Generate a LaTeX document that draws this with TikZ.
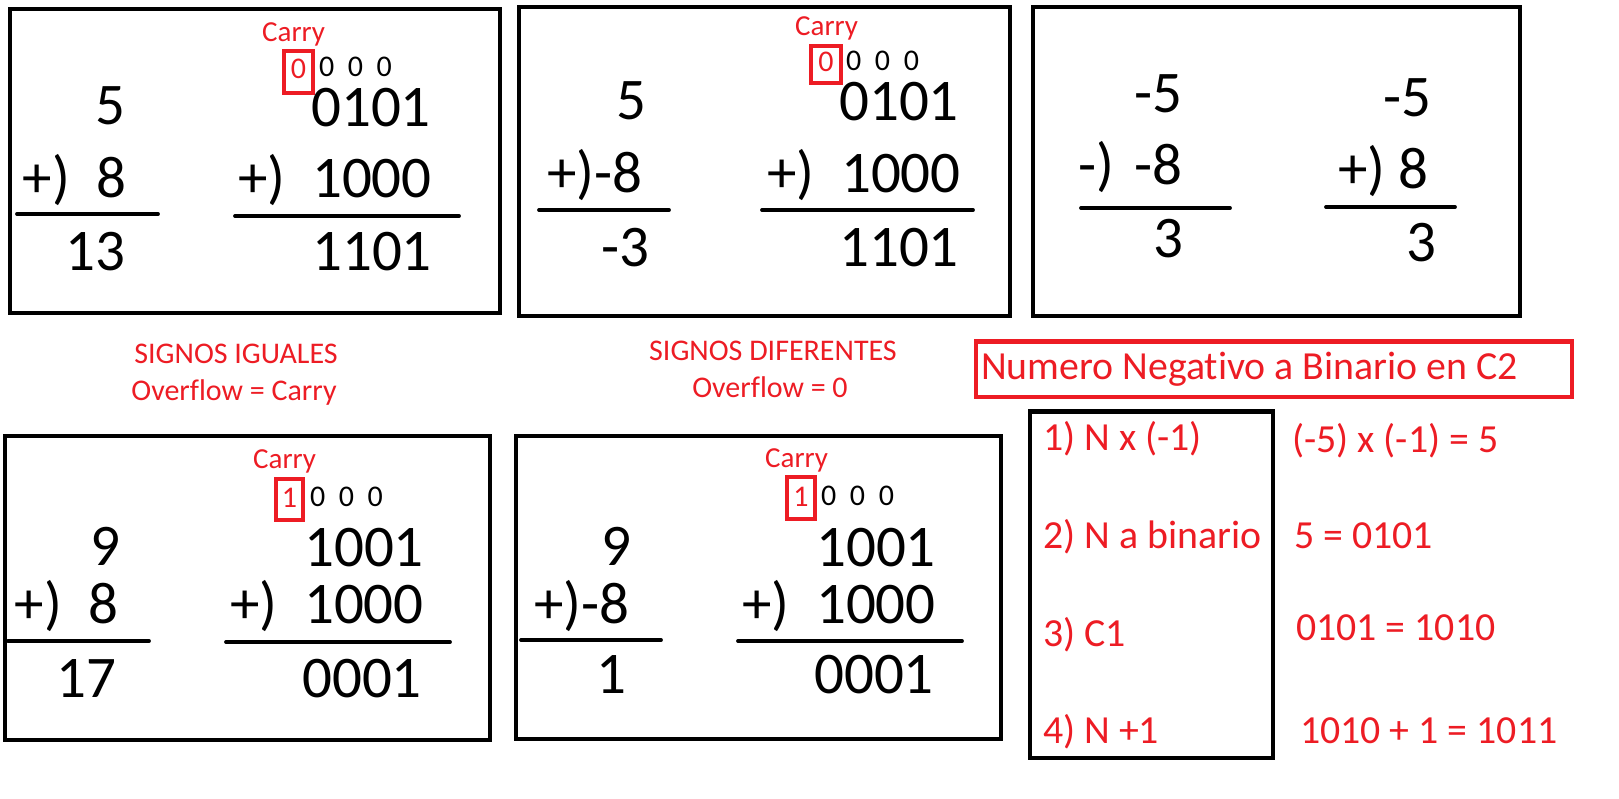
\documentclass[tikz,border=0pt]{standalone}
\usepackage{fontspec}
\setmainfont{Carlito}[Ligatures=NoCommon]
\definecolor{pred}{HTML}{ED1C24}
\tikzset{
  frame/.style={draw=black, line width=4.8pt},
  redframe/.style={draw=pred, line width=4.6pt},
  rule/.style={draw=black, line width=3.8pt, line cap=round},
  big/.style={inner sep=0pt, anchor=base east, font=\fontsize{59}{60}\selectfont},
  carrylbl/.style={inner sep=0pt, anchor=base west, text=pred, font=\fontsize{29}{30}\selectfont},
  cdig/.style={inner sep=0pt, anchor=base west, font=\fontsize{30}{32}\selectfont},
  rdig/.style={inner sep=0pt, anchor=base, text=pred, font=\fontsize{30}{32}\selectfont},
  note/.style={inner sep=0pt, anchor=base, text=pred, font=\fontsize{30}{32}\selectfont},
  stepnote/.style={inner sep=0pt, anchor=base west, text=pred, font=\fontsize{39.8}{42}\selectfont},
}
\begin{document}
\begin{tikzpicture}[x=1pt,y=-1pt]
\useasboundingbox (0,0) rectangle (1619,799);
\fill[white] (0,0) rectangle (1619,799);

% ---------- Box 1 ----------
\draw[frame] (10,9) rectangle (500,313);
\node[carrylbl] (c1) at (262,42) {Carry};
\node[rdig] (c1d) at (298.5,79) {0};
\draw[redframe] (284,51) rectangle (313,93);
\node[cdig] (c1z) at (319,77) {0~~0~~0};
\node[big] (a1) at (126,125) {5};
\node[big] (a2) at (127,198) {+)~~8};
\coordinate (l1a) at (17,214); \coordinate (l1b) at (158,214);
\draw[rule] (l1a) -- (l1b);
\node[big] (a3) at (126,271) {13};
\node[big] (b1) at (431,127) {0101};
\node[big] (b2) at (432,198) {+)~~1000};
\coordinate (l2a) at (235,216); \coordinate (l2b) at (459,216);
\draw[rule] (l2a) -- (l2b);
\node[big] (b3) at (432,271) {1101};

% ---------- Box 2 ----------
\draw[frame] (519,7) rectangle (1010,316);
\node[carrylbl] (c2) at (795,36) {Carry};
\node[rdig] (c2d) at (826,72) {0};
\draw[redframe] (811,46) rectangle (841,83);
\node[cdig] (c2z) at (846,71) {0~~0~~0};
\node[big] (d1) at (647,120) {5};
\node[big] (d2) at (643,193) {+)-8};
\coordinate (l3a) at (539,210); \coordinate (l3b) at (669,210);
\draw[rule] (l3a) -- (l3b);
\node[big] (d3) at (650,267) {-3};
\node[big] (e1) at (959,121) {0101};
\node[big] (e2) at (961,193) {+)~~1000};
\coordinate (l4a) at (762,210); \coordinate (l4b) at (973,210);
\draw[rule] (l4a) -- (l4b);
\node[big] (e3) at (959,267) {1101};

% ---------- Box 3 ----------
\draw[frame] (1033,7) rectangle (1520,316);
\node[big] (f1) at (1183,113) {-5};
\node[big] (f2) at (1183,185) {-)\hspace{20pt}-8};
\coordinate (l5a) at (1081,208); \coordinate (l5b) at (1230,208);
\draw[rule] (l5a) -- (l5b);
\node[big] (f3) at (1184,258) {3};
\node[big] (g1) at (1432,117) {-5};
\node[big] (g2) at (1429,189) {+)~8};
\coordinate (l6a) at (1326,207); \coordinate (l6b) at (1455,207);
\draw[rule] (l6a) -- (l6b);
\node[big] (g3) at (1437,262) {3};

% ---------- Notes ----------
\node[note] (n1) at (236,363) {SIGNOS IGUALES};
\node[note] (n2) at (234,400) {Overflow = Carry};
\node[note] (n3) at (773,360) {SIGNOS DIFERENTES};
\node[note] (n4) at (770,397) {Overflow = 0};

% ---------- Box 4 ----------
\draw[frame] (5,436) rectangle (490,740);
\node[carrylbl] (c4) at (253,468) {Carry};
\node[rdig] (c4d) at (289.5,507) {1};
\draw[redframe] (276,479) rectangle (303,520);
\node[cdig] (c4z) at (310,506) {0~~0~~0};
\node[big] (h1) at (121,565) {9};
\node[big] (h2) at (119,623) {+)~~8};
\coordinate (l7a) at (8,641); \coordinate (l7b) at (149,641);
\draw[rule] (l7a) -- (l7b);
\node[big] (h3) at (117,697) {17};
\node[big] (i1) at (424,566) {1001};
\node[big] (i2) at (424,623) {+)~~1000};
\coordinate (l8a) at (226,642); \coordinate (l8b) at (450,642);
\draw[rule] (l8a) -- (l8b);
\node[big] (i3) at (422,697) {0001};

% ---------- Box 5 ----------
\draw[frame] (516,436) rectangle (1001,739);
\node[carrylbl] (c5) at (765,467) {Carry};
\node[rdig] (c5d) at (801,506) {1};
\draw[redframe] (787,477) rectangle (815,519);
\node[cdig] (c5z) at (821,505) {0~~0~~0};
\node[big] (j1) at (632,565) {9};
\node[big] (j2) at (630,623) {+)-8};
\coordinate (l9a) at (521,640); \coordinate (l9b) at (661,640);
\draw[rule] (l9a) -- (l9b);
\node[big] (j3) at (627,693) {1};
\node[big] (k1) at (936,566) {1001};
\node[big] (k2) at (936,623) {+)~~1000};
\coordinate (l10a) at (738,641); \coordinate (l10b) at (962,641);
\draw[rule] (l10a) -- (l10b);
\node[big] (k3) at (934,693) {0001};

% ---------- C2 panel ----------
\draw[redframe] (976,341.5) rectangle (1572,397);
\node[stepnote] (t) at (981,379) {Numero Negativo a Binario en C2};
\draw[frame] (1030,411.5) rectangle (1273,758);
\node[stepnote] (s1) at (1043,450) {1) N x (-1)};
\node[stepnote] (s2) at (1043,548) {2) N a binario};
\node[stepnote] (s3) at (1043,646) {3) C1};
\node[stepnote] (s4) at (1043,743) {4) N +1};
\node[stepnote] (r1) at (1292,452) {(-5) x (-1) = 5};
\node[stepnote] (r2) at (1294,548) {5 = 0101};
\node[stepnote] (r3) at (1296,640) {0101 = 1010};
\node[stepnote] (r4) at (1300,743) {1010 + 1 = 1011};
\end{tikzpicture}
\end{document}
